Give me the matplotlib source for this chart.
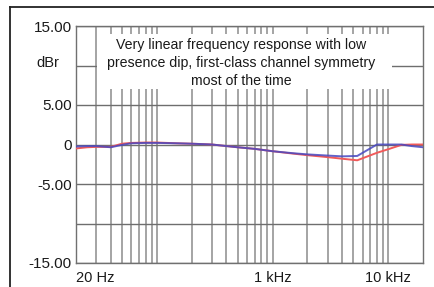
import matplotlib
matplotlib.use("Agg")
import matplotlib.pyplot as plt
from matplotlib.patches import Rectangle
from matplotlib.lines import Line2D
from matplotlib.ticker import FixedLocator, NullFormatter

plt.rcParams['font.family'] = ['Liberation Sans', 'DejaVu Sans']

freq_hz = [20, 25, 30, 40, 50, 60, 80, 100, 150, 200, 300, 400, 500, 700,
           1000, 1500, 2000, 3000, 4000, 5400, 8000, 10000, 13000, 16000, 20000]
left_db = [-0.25, -0.2, -0.2, -0.35, -0.05, 0.15, 0.2, 0.2, 0.15, 0.1, 0.0, -0.2, -0.35, -0.55,
           -0.85, -1.1, -1.25, -1.4, -1.5, -1.45, 0.0, 0.0, 0.0, -0.2, -0.35]
right_db = [-0.5, -0.35, -0.3, -0.3, 0.1, 0.2, 0.25, 0.25, 0.15, 0.1, 0.0, -0.2, -0.35, -0.55,
            -0.85, -1.15, -1.35, -1.6, -1.8, -2.0, -1.05, -0.6, -0.05, 0.0, 0.0]

y_ticks = [15, 5, 0, -5, -15]
y_ticklabels = ["15.00", "5.00", "0", "-5.00", "-15.00"]
y_grid = [15, 10, 5, 0, -5, -10, -15]
x_ticks = [20, 1000, 10000]
x_ticklabels = ["20 Hz", "1 kHz", "10 kHz"]
note = "Very linear frequency response with low\npresence dip, first-class channel symmetry\nmost of the time"
unit = "dBr"

fig = plt.figure(figsize=(4.35, 2.87), dpi=100)
fig.patch.set_facecolor('white')
ax = fig.add_axes([76/435, 1-263/287, (423-76)/435, (263-26)/287])

ax.set_xscale('log')
ax.set_xlim(20, 20000)
ax.set_ylim(-15, 15)

# grid
for f in [m * 10**e for e in range(1, 5) for m in range(1, 10)]:
    if 20 < f < 20000:
        ax.axvline(f, color='#8c8c8c', lw=1.1, zorder=1)
for y in y_grid:
    ax.axhline(y, color='#6e6e6e', lw=1.0, zorder=1)

# white note box
ax.add_patch(Rectangle(((97-76)/347, (263-89)/237), (392-97)/347, (89-34)/237,
                       transform=ax.transAxes, facecolor='white', edgecolor='none', zorder=1.5))
ax.text((241-76)/347, (263-63)/237, note, transform=ax.transAxes, ha='center', va='center',
        fontsize=10.2, color='#1a1a1a', linespacing=1.38, zorder=2)

ax.plot(freq_hz, right_db, color='#f05a5a', lw=1.4, zorder=3)
ax.plot(freq_hz, left_db, color='#4848c0', lw=1.4, alpha=0.85, zorder=4)

ax.xaxis.set_major_locator(FixedLocator(x_ticks))
ax.xaxis.set_minor_locator(FixedLocator([]))
ax.set_xticklabels(x_ticklabels)
ax.xaxis.set_minor_formatter(NullFormatter())
ax.set_yticks(y_ticks)
ax.set_yticklabels(y_ticklabels)
ax.tick_params(axis='both', length=0, labelsize=10.5, colors='#1a1a1a')
ax.tick_params(axis='y', pad=3, labelsize=11)
ax.tick_params(axis='x', pad=6)
ax.get_xticklabels()[0].set_ha('left')

for s in ax.spines.values():
    s.set_color('#707070')
    s.set_linewidth(1.0)

fig.text(48/435, 1-63/287, unit, ha='center', va='center', fontsize=10.5, color='#1a1a1a')

# outer frame
fig.add_artist(Line2D([10/435, 10/435], [0, 1-7/287], color='#222222', lw=1.3,
                      transform=fig.transFigure))
fig.add_artist(Line2D([10/435, 1], [1-7/287, 1-7/287], color='#222222', lw=1.3,
                      transform=fig.transFigure))

fig.savefig('out.png', dpi=100, facecolor='white')
